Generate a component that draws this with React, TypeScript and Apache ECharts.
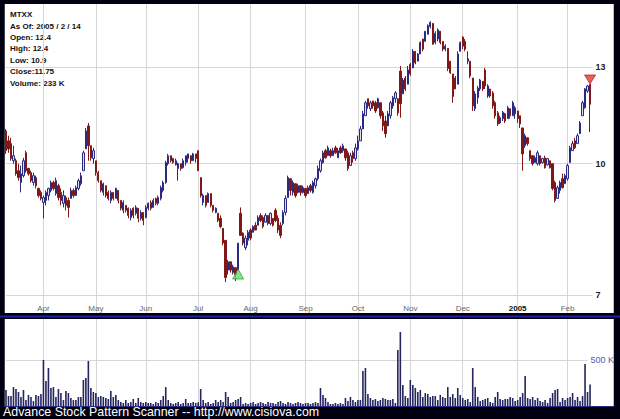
import React, { useEffect, useRef } from "react";
import * as echarts from "echarts";

// ---------- data ----------
const ticker = "MTXX";
const infoLines = [
  "MTXX",
  "As Of: 2005 / 2 / 14",
  "Open: 12.4",
  "High: 12.4",
  "Low: 10.9",
  "Close:11.75",
  "Volume: 233 K",
];
const footerText = "Advance Stock Pattern Scanner -- http://www.cisiova.com";

const startDate = "2004-03-11";
const endDate = "2005-02-14";
const holidays = [
  "2004-04-09", "2004-05-31", "2004-06-11", "2004-07-05",
  "2004-09-06", "2004-11-25", "2004-12-24", "2005-01-17",
];
const monthLabels = ["2005", "Feb", "Mar", "Apr", "May", "Jun", "Jul", "Aug", "Sep", "Oct", "Nov", "Dec"];
const priceTicks = [7, 10, 13];
const volumeTicksK = [500];
const priceAxisMin = 6.666;
const priceAxisMax = 15.43;
const volumeAxisMaxK = 946;
const padCount = 9;

// [open, close, low, high]
const ohlc: number[][] = [
  [10.93, 10.36, 10.27, 10.99], [10.64, 10.41, 10.30, 10.79], [10.56, 10.14, 10.08, 10.73], [10.08, 10.22, 10.00, 10.50],
  [10.08, 9.73, 9.68, 10.14], [9.81, 9.63, 9.55, 10.00], [9.50, 9.73, 9.25, 9.95], [9.68, 10.08, 9.63, 10.16],
  [10.30, 9.81, 9.76, 10.36], [9.87, 9.73, 9.68, 9.89], [9.76, 9.55, 9.50, 9.81], [9.50, 9.68, 9.42, 9.76],
  [9.63, 9.42, 9.35, 9.68], [9.35, 9.17, 9.12, 9.37], [9.25, 9.10, 9.05, 9.30], [9.00, 9.12, 8.62, 9.17],
  [9.05, 9.25, 8.93, 9.30], [9.17, 9.35, 9.05, 9.37], [9.30, 9.50, 9.25, 9.55], [9.50, 9.35, 9.30, 9.55],
  [9.22, 9.55, 9.17, 9.63], [9.42, 9.12, 9.05, 9.47], [9.25, 9.05, 8.93, 9.35], [8.98, 9.17, 8.88, 9.30],
  [9.12, 8.93, 8.81, 9.17], [9.05, 8.88, 8.64, 9.12], [9.10, 9.30, 9.10, 9.37], [9.30, 9.17, 9.12, 9.35],
  [9.17, 9.37, 9.17, 9.42], [9.35, 9.55, 9.30, 9.60], [9.47, 9.68, 9.42, 9.76], [9.81, 10.30, 9.81, 10.36],
  [10.41, 10.93, 10.41, 11.02], [11.08, 10.50, 10.08, 11.17], [10.50, 10.16, 10.08, 10.50], [10.14, 10.36, 10.00, 10.44],
  [10.08, 9.76, 9.68, 10.08], [9.76, 9.55, 9.50, 9.81], [9.55, 9.30, 9.25, 9.55], [9.25, 9.47, 9.17, 9.50],
  [9.42, 9.17, 9.12, 9.42], [9.25, 9.10, 9.05, 9.30], [9.05, 9.25, 8.98, 9.30], [9.25, 9.10, 9.05, 9.25],
  [9.10, 9.35, 9.10, 9.37], [9.30, 9.05, 8.98, 9.30], [9.05, 8.86, 8.81, 9.05], [8.81, 9.00, 8.74, 9.05],
  [8.93, 8.81, 8.76, 8.93], [8.86, 8.69, 8.62, 8.88], [8.64, 8.81, 8.57, 8.86], [8.86, 8.69, 8.62, 8.88],
  [8.74, 8.88, 8.69, 8.93], [8.86, 8.62, 8.53, 8.86], [8.62, 8.76, 8.57, 8.81], [8.76, 8.57, 8.46, 8.76],
  [8.64, 8.88, 8.62, 8.93], [8.86, 8.98, 8.81, 9.00], [9.00, 8.86, 8.81, 9.05], [8.88, 9.05, 8.88, 9.10],
  [9.10, 8.98, 8.93, 9.12], [8.98, 9.12, 8.93, 9.17], [9.10, 9.37, 9.05, 9.42], [9.30, 9.50, 9.25, 9.55],
  [9.50, 10.03, 9.47, 10.08], [10.00, 10.22, 9.95, 10.27], [10.22, 10.08, 10.03, 10.22], [10.14, 10.03, 10.00, 10.16],
  [9.97, 10.08, 9.95, 10.14], [9.87, 10.00, 9.55, 10.03], [10.00, 9.87, 9.81, 10.00], [9.89, 10.08, 9.87, 10.14],
  [10.03, 10.22, 9.95, 10.22], [10.14, 10.27, 10.03, 10.27], [10.22, 10.08, 10.00, 10.22], [10.08, 10.27, 10.08, 10.30],
  [10.27, 10.14, 10.03, 10.27], [10.36, 9.81, 9.81, 10.36], [9.63, 9.17, 9.12, 9.63], [9.00, 9.17, 8.93, 9.22],
  [9.17, 8.93, 8.88, 9.17], [9.00, 9.22, 9.00, 9.25], [9.22, 8.93, 8.88, 9.22], [8.93, 8.81, 8.76, 8.93],
  [8.76, 8.86, 8.74, 8.88], [8.74, 8.57, 8.53, 8.74], [8.62, 8.43, 8.39, 8.69], [8.39, 8.06, 8.01, 8.39],
  [8.12, 7.34, 7.25, 8.12], [7.49, 7.66, 7.40, 7.70], [7.66, 7.49, 7.44, 7.66], [7.44, 7.56, 7.40, 7.60],
  [7.54, 7.40, 7.27, 7.54], [7.49, 8.06, 7.49, 8.06], [8.74, 8.23, 8.23, 8.88], [8.28, 8.06, 8.01, 8.30],
  [7.96, 8.17, 7.91, 8.23], [8.12, 8.30, 8.01, 8.35], [8.35, 8.17, 8.12, 8.39], [8.30, 8.43, 8.30, 8.46],
  [8.46, 8.35, 8.35, 8.53], [8.46, 8.64, 8.46, 8.69], [8.69, 8.57, 8.53, 8.74], [8.64, 8.43, 8.39, 8.69],
  [8.53, 8.69, 8.53, 8.74], [8.69, 8.50, 8.46, 8.69], [8.50, 8.74, 8.46, 8.76], [8.62, 8.46, 8.43, 8.62],
  [8.81, 8.57, 8.53, 8.86], [8.62, 8.35, 8.28, 8.69], [8.46, 8.23, 8.17, 8.53], [8.50, 8.76, 8.46, 8.81],
  [8.76, 9.10, 8.69, 9.17], [9.12, 9.63, 9.12, 9.68], [9.60, 9.30, 9.17, 9.60], [9.25, 9.50, 9.17, 9.55],
  [9.47, 9.17, 9.12, 9.47], [9.25, 9.42, 9.22, 9.47], [9.42, 9.25, 9.17, 9.42], [9.25, 9.37, 9.22, 9.42],
  [9.35, 9.17, 9.12, 9.35], [9.22, 9.37, 9.22, 9.42], [9.42, 9.30, 9.25, 9.47], [9.25, 9.50, 9.22, 9.55],
  [9.42, 9.60, 9.35, 9.63], [9.60, 9.87, 9.55, 9.95], [9.81, 10.08, 9.76, 10.14], [10.03, 10.30, 10.00, 10.36],
  [10.36, 10.16, 10.14, 10.41], [10.22, 10.44, 10.22, 10.50], [10.36, 10.22, 10.16, 10.41], [10.22, 10.36, 10.22, 10.44],
  [10.44, 10.30, 10.27, 10.50], [10.16, 10.36, 10.16, 10.44], [10.44, 10.30, 10.27, 10.50], [10.36, 10.50, 10.30, 10.56],
  [10.41, 10.16, 10.08, 10.41], [10.30, 9.87, 9.81, 10.36], [9.95, 10.22, 9.95, 10.30], [10.30, 10.14, 10.03, 10.36],
  [10.14, 10.44, 10.08, 10.56], [10.41, 10.64, 10.36, 10.79], [10.64, 10.99, 10.64, 11.08], [10.99, 11.45, 10.99, 11.54],
  [11.39, 11.80, 11.39, 11.86], [11.93, 11.70, 11.61, 11.93], [11.61, 11.80, 11.54, 11.86], [11.86, 11.70, 11.61, 11.86],
  [11.80, 11.54, 11.48, 11.86], [11.64, 11.93, 11.61, 11.96], [11.80, 11.39, 11.30, 11.80], [11.48, 11.08, 10.93, 11.54],
  [11.23, 10.85, 10.73, 11.39], [11.08, 11.45, 11.08, 11.54], [11.39, 11.80, 11.30, 11.86], [11.70, 11.96, 11.61, 12.02],
  [11.93, 12.12, 11.80, 12.18], [11.93, 11.48, 11.39, 11.93], [12.86, 11.77, 11.33, 13.04], [12.09, 12.55, 12.09, 12.62],
  [12.62, 12.25, 12.18, 12.69], [12.41, 12.90, 12.41, 13.04], [13.10, 12.76, 12.69, 13.15], [12.97, 13.57, 12.97, 13.65],
  [13.57, 13.15, 13.10, 13.57], [13.21, 13.47, 13.21, 13.50], [13.47, 13.90, 13.47, 13.94], [14.03, 13.65, 13.57, 14.03],
  [13.94, 14.33, 13.94, 14.33], [14.21, 14.55, 14.21, 14.60], [14.51, 14.68, 14.44, 14.72], [14.64, 13.83, 13.83, 14.64],
  [13.90, 14.25, 13.83, 14.33], [14.03, 14.38, 13.94, 14.44], [14.33, 13.90, 13.83, 14.33], [13.94, 13.65, 13.57, 13.94],
  [13.65, 13.76, 13.57, 13.83], [13.68, 12.95, 12.86, 13.68], [13.21, 12.80, 12.76, 13.21], [12.76, 12.00, 11.80, 12.76],
  [12.62, 12.25, 12.25, 12.69], [12.41, 13.47, 12.41, 13.57], [13.57, 13.90, 13.57, 13.94], [14.10, 13.76, 13.65, 14.14],
  [13.94, 13.65, 13.57, 14.03], [13.21, 13.30, 13.10, 13.57], [13.21, 12.69, 12.62, 13.21], [12.62, 11.70, 11.54, 12.62],
  [11.61, 12.09, 11.54, 12.18], [11.96, 12.28, 11.77, 12.35], [12.25, 12.55, 12.18, 12.59], [12.51, 12.25, 12.18, 12.51],
  [12.90, 12.35, 12.25, 12.97], [12.02, 12.35, 11.96, 12.41], [12.25, 12.02, 11.96, 12.25], [12.12, 11.70, 11.61, 12.18],
  [11.80, 11.39, 11.30, 11.86], [11.48, 11.14, 11.08, 11.54], [11.17, 11.33, 11.14, 11.39], [11.30, 11.50, 11.23, 11.54],
  [11.45, 11.23, 11.17, 11.48], [11.30, 11.64, 11.30, 11.70], [11.61, 11.39, 11.30, 11.61], [11.39, 11.80, 11.39, 11.86],
  [11.45, 11.64, 11.30, 11.70], [11.54, 11.30, 11.17, 11.54], [11.39, 11.14, 11.02, 11.39], [11.02, 10.27, 9.81, 11.02],
  [10.50, 10.79, 10.44, 10.85], [10.73, 10.56, 10.50, 10.73], [10.36, 10.14, 10.08, 10.36], [10.22, 10.00, 9.95, 10.22],
  [10.03, 10.16, 10.03, 10.22], [10.00, 10.30, 9.95, 10.36], [10.22, 10.00, 9.95, 10.22], [10.03, 10.14, 10.00, 10.16],
  [10.16, 9.89, 9.87, 10.22], [9.97, 10.14, 9.95, 10.14], [10.08, 9.89, 9.87, 10.08], [10.00, 9.35, 9.30, 10.00],
  [9.50, 9.05, 9.00, 9.55], [9.10, 9.37, 9.10, 9.42], [9.30, 9.50, 9.22, 9.55], [9.60, 9.37, 9.35, 9.73],
  [9.47, 9.68, 9.47, 9.73], [9.60, 9.95, 9.55, 10.00], [10.03, 10.44, 10.03, 10.50], [10.36, 10.56, 10.36, 10.64],
  [10.64, 10.44, 10.41, 10.73], [10.56, 10.79, 10.56, 10.85], [10.85, 11.17, 10.85, 11.23], [11.39, 11.80, 11.39, 11.86],
  [11.64, 12.25, 11.61, 12.28], [12.18, 12.35, 12.12, 12.38], [12.40, 11.75, 10.90, 12.40],
];

// volume in thousands of shares
const volumeK: number[] = [
  174, 109, 109, 206, 185, 152, 98, 174, 65, 120, 98, 54, 120, 109, 130,
  500, 272, 413, 196, 206, 98, 185, 141, 65, 163, 141, 87, 65, 65, 98,
  98, 283, 304, 489, 196, 152, 141, 98, 109, 98, 87, 76, 163, 98, 120,
  65, 43, 33, 65, 33, 43, 76, 33, 87, 43, 33, 43, 33, 33, 22,
  43, 33, 65, 109, 206, 65, 33, 22, 33, 43, 22, 33, 76, 33, 33, 43, 33,
  40, 185, 65, 33, 43, 22, 33, 65, 43, 65, 43, 152, 98, 33, 43, 65, 76, 98, 22, 33, 22,
  33, 43, 22, 33, 43, 33, 22, 43, 33, 33, 22, 43, 54, 33, 22, 43, 33, 22, 33, 43, 33, 22, 33, 33, 22, 33, 43, 33,
  196, 120, 87, 43, 22, 22, 33, 22, 33, 22, 87, 54, 98, 65, 43, 65, 65, 380, 413, 130, 87, 65, 76, 54, 65, 87, 76, 65, 65, 76,
  33, 609, 804, 228, 109, 87, 283, 228, 196, 152, 174, 98, 141, 130, 98, 109, 109, 65, 120, 98, 87, 206, 98, 130, 87, 196, 120, 87, 65, 76,
  43, 413, 206, 98, 54, 65, 76, 87, 43, 33, 98, 152, 76, 65, 76, 76, 98, 87, 54, 65, 98, 141, 326, 87, 76, 98, 65, 87, 54, 43,
  65, 33, 87, 141, 174, 185, 43, 87, 65, 87, 98, 141, 65, 98, 54, 109, 456, 152, 233,
];

const buySignal = { index: 93, price: 7.41 };
const sellSignal = { index: 234, price: 12.57 };

// ---------- helpers ----------
function tradingDays(start: string, end: string, closed: string[]): string[] {
  const out: string[] = [];
  const d = new Date(start + "T00:00:00Z");
  const e = new Date(end + "T00:00:00Z");
  while (d <= e) {
    const dow = d.getUTCDay();
    const s = d.toISOString().slice(0, 10);
    if (dow !== 0 && dow !== 6 && closed.indexOf(s) < 0) out.push(s);
    d.setUTCDate(d.getUTCDate() + 1);
  }
  return out;
}

const dates = tradingDays(startDate, endDate, holidays);
const categories = [...dates, ...Array.from({ length: padCount }, (_, i) => "pad" + i)];
const monthStart = new Set<number>();
for (let i = 1; i < dates.length; i++) {
  if (dates[i].slice(5, 7) !== dates[i - 1].slice(5, 7)) monthStart.add(i);
}
const isMonthStart = (idx: number) => monthStart.has(idx);

const FONT = 'Arial, "Liberation Sans", sans-serif';

export default function App() {
  const ref = useRef<HTMLDivElement>(null);
  useEffect(() => {
    if (!ref.current) return;
    const chart = echarts.init(ref.current, undefined, { renderer: "svg" });
    const gridLeft = 4.75;
    const gridWidth = 609;
    const gridColor = "#d6d6d6";
    const lastIdx = ohlc.length - 1;
    const option: any = {
      animation: false,
      backgroundColor: "#000010",
      grid: [
        { left: gridLeft, top: 4, width: gridWidth, height: 309, show: true, backgroundColor: "#ffffff", borderWidth: 0 },
        { left: gridLeft, top: 319, width: gridWidth, height: 87, show: true, backgroundColor: "#ffffff", borderWidth: 0 },
      ],
      xAxis: [
        {
          type: "category", gridIndex: 0, data: categories, boundaryGap: true,
          axisLine: { show: false }, axisTick: { show: false },
          axisLabel: {
            inside: true, margin: 0, interval: isMonthStart, fontSize: 8, lineHeight: 10,
            color: "#666", fontFamily: FONT,
            formatter: (v: string) => {
              const m = Number(v.slice(5, 7));
              return m === 1 ? `{y|${monthLabels[0]}}` : `{m|${monthLabels[m - 1]}}`;
            },
            rich: {
              y: { fontSize: 8, fontWeight: "bold", color: "#111", fontFamily: FONT },
              m: { fontSize: 8, color: "#666", fontFamily: FONT },
            },
          },
          splitLine: { show: true, interval: isMonthStart, alignWithLabel: true, lineStyle: { color: gridColor, width: 1 } },
        },
        {
          type: "category", gridIndex: 1, data: categories, boundaryGap: true,
          axisLine: { show: true, lineStyle: { color: "#2a2a80", width: 1 } },
          axisTick: { show: false }, axisLabel: { show: false },
          splitLine: { show: true, interval: isMonthStart, alignWithLabel: true, lineStyle: { color: gridColor, width: 1 } },
        },
      ],
      yAxis: [
        {
          type: "log", gridIndex: 0, logBase: 10, min: priceAxisMin, max: priceAxisMax,
          axisLine: { show: false }, axisTick: { show: false }, axisLabel: { show: false }, splitLine: { show: false },
        },
        {
          type: "value", gridIndex: 1, min: 0, max: volumeAxisMaxK,
          axisLine: { show: false }, axisTick: { show: false }, axisLabel: { show: false }, splitLine: { show: false },
        },
      ],
      series: [
        {
          type: "candlestick", xAxisIndex: 0, yAxisIndex: 0, data: ohlc, barWidth: 1.8,
          itemStyle: { color: "#dcdcf4", color0: "#801818", borderColor: "#2a2a80", borderColor0: "#801818", borderWidth: 1 },
          markLine: {
            silent: true, symbol: ["none", "none"], animation: false, z: 1,
            lineStyle: { color: gridColor, width: 1, type: "solid" },
            label: { show: true, position: "end", distance: 3, formatter: "{b}", color: "#222", fontSize: 9, fontWeight: "bold", fontFamily: FONT },
            data: priceTicks.map((t) => [{ coord: [0, t], name: String(t) }, { coord: [lastIdx + 1, t] }]),
          },
        },
        {
          type: "scatter", xAxisIndex: 0, yAxisIndex: 0, symbol: "triangle", symbolSize: [11, 10],
          data: [[buySignal.index, buySignal.price]],
          itemStyle: { color: "#66dd66", borderColor: "#2a8a2a", borderWidth: 0.8 }, z: 5,
        },
        {
          type: "scatter", xAxisIndex: 0, yAxisIndex: 0, symbol: "triangle", symbolSize: [11, 9], symbolRotate: 180,
          data: [[sellSignal.index, sellSignal.price]],
          itemStyle: { color: "#e83434", borderColor: "#a01414", borderWidth: 0.8 }, z: 5,
        },
        {
          type: "bar", xAxisIndex: 1, yAxisIndex: 1, data: volumeK, barWidth: 1.6,
          itemStyle: { color: "#24245e" },
          markLine: {
            silent: true, symbol: ["none", "none"], animation: false, z: 1,
            lineStyle: { color: gridColor, width: 1, type: "solid" },
            label: { show: true, position: "end", distance: 3, formatter: "{b}", color: "#5a5aae", fontSize: 9, fontFamily: FONT },
            data: volumeTicksK.map((t) => [{ coord: [0, t], name: `${t} K` }, { coord: [lastIdx - 1, t] }]),
          },
        },
      ],
      graphic: [
        { type: "rect", shape: { x: 0, y: 315.5, width: 620, height: 2 }, style: { fill: "#20209a" }, silent: true },
        {
          type: "text", x: 10, y: 9, silent: true,
          style: { text: infoLines.join("\n"), font: `bold 8px ${FONT}`, lineHeight: 11.4, fill: "#111" },
        },
        {
          type: "text", x: 3, y: 406, silent: true,
          style: { text: footerText, font: `12.4px ${FONT}`, fill: "#ffffff" },
        },
      ],
    };
    chart.setOption(option);
    return () => chart.dispose();
  }, []);
  return (
    <div
      ref={ref}
      title={ticker}
      style={{ position: "fixed", left: 0, top: 0, width: 620, height: 419 }}
    />
  );
}
